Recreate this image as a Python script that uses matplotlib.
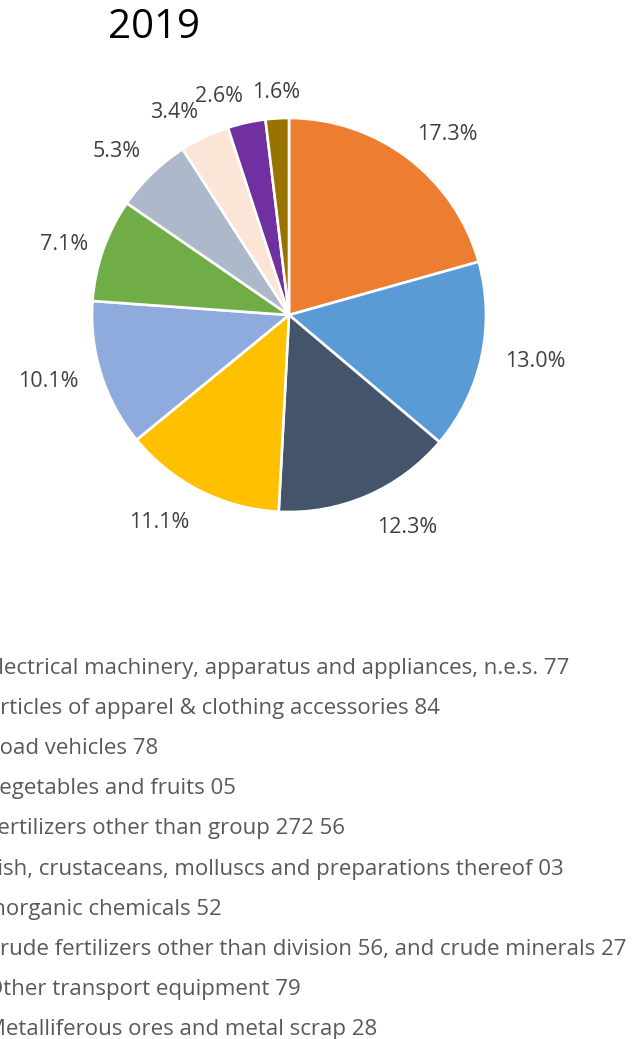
import numpy as np
import matplotlib
matplotlib.use("Agg")
import matplotlib.pyplot as plt
from matplotlib.patches import Patch

plt.rcParams["font.family"] = ["Open Sans", "DejaVu Sans"]

# share of 2019 exports, percent
categories = [
    "Electrical machinery, apparatus and appliances, n.e.s. 77",
    "Articles of apparel & clothing accessories 84",
    "Road vehicles 78",
    "Vegetables and fruits 05",
    "Fertilizers other than group 272 56",
    "Fish, crustaceans, molluscs and preparations thereof 03",
    "Inorganic chemicals 52",
    "Crude fertilizers other than division 56, and crude minerals 27",
    "Other transport equipment 79",
    "Metalliferous ores and metal scrap 28",
]
shares = [17.3, 13.0, 12.3, 11.1, 10.1, 7.1, 5.3, 3.4, 2.6, 1.6]
colors = ["#ED7D31", "#5B9BD5", "#44546A", "#FFC000", "#8FAADC",
          "#70AD47", "#ADB9CA", "#FBE5D6", "#7030A0", "#997300"]

W, H = 641, 1039
fig = plt.figure(figsize=(W / 100, H / 100), dpi=100)

# pie axes: centre (289, 315) px, radius 197 px
cx, cy, r = 289, 315, 197
ax = fig.add_axes([(cx - r) / W, (H - cy - r) / H, 2 * r / W, 2 * r / H])
wedges, _ = ax.pie(shares, colors=colors, startangle=90, counterclock=False,
                   wedgeprops=dict(edgecolor="white", linewidth=1.9))
ax.set_xlim(-1, 1)
ax.set_ylim(-1, 1)
ax.set_aspect("equal")

for w, val in zip(wedges, shares):
    mid = np.deg2rad((w.theta1 + w.theta2) / 2)
    c, s = np.cos(mid), np.sin(mid)
    ha = "left" if c > 0.2 else ("right" if c < -0.2 else "center")
    va = "bottom" if s > 0.35 else ("top" if s < -0.35 else "center")
    dist = 1.08 if s > 0 else 1.12
    ax.text(dist * c, dist * s, f"{val:.1f}%", ha=ha, va=va,
            fontsize=15.5, color="#404040")

fig.text(154 / W, 1 - 28 / H, "2019", ha="center", va="center",
         fontsize=29, color="black")

handles = [Patch(facecolor=col) for col in colors]
fig.legend(handles, categories, loc="upper left",
           bbox_to_anchor=(-41 / W, 1 - 658 / H), frameon=False,
           fontsize=16, labelcolor="#595959", borderpad=0, borderaxespad=0,
           handlelength=0.7, handleheight=0.7, handletextpad=0.5,
           labelspacing=0.86)

fig.savefig("out.png", dpi=100)
